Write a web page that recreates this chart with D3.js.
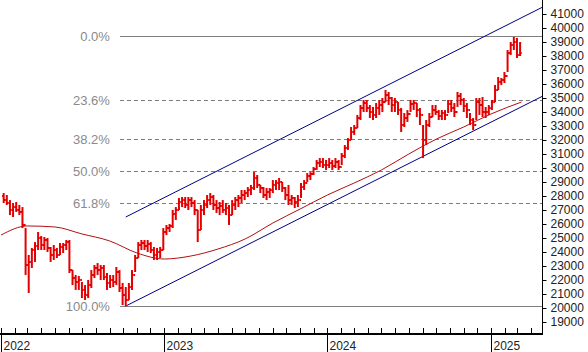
<!DOCTYPE html>
<html><head><meta charset="utf-8">
<script src="https://cdn.jsdelivr.net/npm/d3@7"></script>
<style>body{margin:0;background:#fff} svg{display:block;font-family:Arial,"Liberation Sans",sans-serif}</style>
</head><body><svg id="c" width="588" height="352"></svg>
<script>
// ---- data (weekly bars) ----
const firstWeek = "2022-01-07";
const firstOpen = 28000;
const high = [28210,28070,27710,27500,27570,27360,27210,25710,23790,24290,24710,25430,25140,25070,25000,24360,24500,24290,24640,24640,
24860,24860,22710,22360,22290,21860,21640,22000,22710,23070,23210,23070,23070,22500,22360,22360,22930,22710,21790,21500,
21790,22710,23790,24710,24860,24860,24860,24710,24360,24290,24360,25710,25930,26000,27000,27210,27860,27930,27930,27930,
27930,27710,27000,27360,27710,28070,28210,28070,27710,27570,27710,27500,27360,27710,27930,28070,28430,28430,28640,28790,
29710,29500,28790,28640,28570,28570,29140,29140,29290,29000,28640,28790,28070,27930,28070,28930,29140,29640,29710,30070,
30570,30710,30710,30570,30710,30570,30710,30570,31070,31640,32140,32930,33070,33790,34500,34860,34860,34500,34360,34640,
34860,35000,35570,35430,35070,35000,34710,34290,33930,34140,34860,34860,34640,34290,33070,33430,33930,34500,34500,34140,
34140,34140,34860,34860,34640,35430,35360,35000,34640,33930,33570,35000,35000,35070,34360,34500,34860,35930,36500,36430,
36860,38430,39000,39360,39290,39000];
const low = [27500,27360,26640,26500,26860,26640,25710,22360,21070,22860,23290,24140,24140,24140,24000,23290,23430,23570,23790,23930,
24140,22500,21640,21290,21290,20710,20570,20710,21430,22140,22360,22000,22000,21290,21430,21500,21640,21140,20210,20140,
20570,21290,22570,23570,24140,24140,24000,23930,23430,23430,23570,24140,25210,25430,25710,26290,27000,27210,27140,27000,
27210,26640,24710,25570,26640,27140,27360,27000,26790,26640,26790,26640,25930,26640,27000,27210,27500,27710,27930,28070,
28430,28570,28210,27860,27710,27860,28210,28430,28430,28290,27710,27360,27360,27140,27210,27860,28430,29000,29140,29500,
29860,30070,30000,29860,30000,29860,30000,29860,30210,30710,31290,32000,32360,32860,33430,34000,34000,33570,33430,33570,
33790,34000,34710,34500,34000,34000,33790,32570,32930,33290,34000,34140,33640,33070,30710,31640,32930,33640,33790,33430,
33430,33430,33930,34000,33640,34360,34500,34000,33570,33070,32710,33430,33790,33640,33570,33790,34140,34710,35570,35930,
36070,36860,38070,38430,37860,38000];
const close = [27710,27500,27000,27210,27000,26860,25930,23070,23290,24140,24430,25000,24500,24860,24290,23790,24140,23790,24360,24500,
24710,22710,22140,21860,22000,21290,20930,21640,22360,22860,22710,22860,22210,21790,22000,21860,22570,21430,20930,20570,
21500,22360,23570,24500,24640,24430,24570,24140,23790,24000,24140,25430,25710,25860,26710,27000,27570,27710,27360,27710,
27500,27000,25570,27000,27360,27710,27930,27360,27140,27290,27000,27140,26640,27360,27710,27860,28070,28210,28430,28570,
29290,28790,28570,28070,28290,28430,28790,28930,29000,28570,28070,27710,27860,27570,27710,28640,28930,29430,29570,29930,
30360,30430,30210,30210,30360,30140,30430,30070,30860,31430,32000,32570,32860,33570,34290,34640,34290,34000,33790,34290,
34500,34710,35210,35000,34500,34710,34140,33070,33570,33860,34570,34640,34140,33790,32000,33070,33640,34140,34000,33710,
33930,33790,34570,34290,34000,35140,34860,34430,34140,33430,33070,34710,34500,34000,34000,34290,34710,35570,36140,36290,
36570,38210,38790,39000,38070,38210];
// moving average, read every two months
const maDates = ["2022-01-01","2022-03-01","2022-05-01","2022-07-01","2022-09-01","2022-11-01","2023-01-01","2023-03-01","2023-05-01","2023-07-01",
"2023-09-01","2023-11-01","2024-01-01","2024-03-01","2024-05-01","2024-07-01","2024-09-01","2024-11-01","2025-01-01","2025-03-10"];
const maValues = [25210,25860,25790,25290,24790,23930,23500,23710,24210,24930,26070,27070,28070,28930,29860,31000,32070,32930,33860,34710];
// channel
const channelDates = ["2022-10-07","2025-04-25"];
const channelLower = [20140, 35110];
const channelUpper = [26500, 41470];
// fibonacci retracement
const fibRatios = [0, 0.236, 0.382, 0.5, 0.618, 1];
const fibLabels = ["0.0%","23.6%","38.2%","50.0%","61.8%","100.0%"];
const fibHigh = 39430, fibLow = 20140;
const fibStart = "2022-09-24";
// axes
const yTicks = d3.range(19000, 41001, 1000);
const yearLabels = ["2022","2023","2024","2025"];
const axisStart = "2022-01-01", axisEnd = "2025-04-25";

// ---- drawing ----
const svg = d3.select("#c");
const P = d3.utcParse("%Y-%m-%d");
const x = d3.scaleUtc().domain([P(axisStart), P(axisEnd)]).range([1, 542]);
const y = d3.scaleLinear().domain([20000, 41000]).range([308, 14]);
const plotBottom = 334, plotRight = 542;

// fib lines
const fibG = svg.append("g");
fibRatios.forEach((r, i) => {
  const v = fibHigh - r * (fibHigh - fibLow);
  const yy = Math.round(y(v)) + 0.5;
  const solid = (r === 0 || r === 1);
  fibG.append("line").attr("x1", x(P(fibStart))).attr("x2", plotRight).attr("y1", yy).attr("y2", yy)
    .attr("stroke", solid ? "#808080" : "#7a7a7a").attr("stroke-width", 1)
    .attr("stroke-dasharray", solid ? null : "4,3");
  fibG.append("text").attr("x", x(P(fibStart)) - 10).attr("y", yy).attr("dy", "0.35em")
    .attr("text-anchor", "end").attr("fill", "#8a8a8a").attr("font-size", 13).text(fibLabels[i]);
});

// channel
[channelLower, channelUpper].forEach(vals => {
  svg.append("line").attr("x1", x(P(channelDates[0]))).attr("y1", y(vals[0]))
    .attr("x2", x(P(channelDates[1]))).attr("y2", y(vals[1]))
    .attr("stroke", "#000080").attr("stroke-width", 1);
});

// moving average
svg.append("path").datum(maDates.map((d, i) => [P(d), maValues[i]]))
  .attr("fill", "none").attr("stroke", "#b01010").attr("stroke-width", 1)
  .attr("d", d3.line().x(d => x(d[0])).y(d => y(d[1])).curve(d3.curveMonotoneX));

// bars
const t0 = P(firstWeek);
const bars = close.map((c, i) => ({
  date: d3.utcDay.offset(t0, 7 * i), hi: high[i], lo: low[i], cl: c, op: i === 0 ? firstOpen : close[i - 1]
}));
const bg = svg.append("g").attr("stroke", "#e20000").attr("stroke-width", 2);
bars.forEach(b => {
  const xx = x(b.date);
  bg.append("line").attr("x1", xx).attr("x2", xx).attr("y1", y(b.hi)).attr("y2", y(b.lo));
  bg.append("line").attr("x1", xx - 1.6).attr("x2", xx).attr("y1", y(b.op)).attr("y2", y(b.op));
  bg.append("line").attr("x1", xx).attr("x2", xx + 1.6).attr("y1", y(b.cl)).attr("y2", y(b.cl));
});

// right axis
const ra = svg.append("g").attr("transform", `translate(${plotRight + 0.5},0)`)
  .call(d3.axisRight(y).tickValues(yTicks).tickSize(4).tickPadding(4).tickFormat(d3.format("d")));
ra.select(".domain").remove();
ra.selectAll("text").attr("font-size", 12).attr("font-family", "Arial, 'Liberation Sans', sans-serif").attr("fill", "#222");
svg.append("line").attr("x1", plotRight + 0.5).attr("x2", plotRight + 0.5).attr("y1", 0).attr("y2", plotBottom + 1).attr("stroke", "#000");

// bottom axis
svg.append("line").attr("x1", 0).attr("x2", plotRight + 1).attr("y1", plotBottom).attr("y2", plotBottom)
  .attr("stroke", "#000").attr("stroke-width", 2);
const months = d3.utcMonth.range(P(axisStart), P(axisEnd));
svg.append("g").selectAll("line").data(months).join("line")
  .attr("x1", d => Math.round(x(d)) + 0.5).attr("x2", d => Math.round(x(d)) + 0.5)
  .attr("y1", plotBottom - 6).attr("y2", plotBottom).attr("stroke", "#000");
yearLabels.forEach(yl => {
  const xx = Math.round(x(P(yl + "-01-01"))) + 0.5;
  svg.append("line").attr("x1", xx).attr("x2", xx).attr("y1", plotBottom).attr("y2", 352).attr("stroke", "#000");
  svg.append("text").attr("x", xx + 2).attr("y", 350).attr("font-size", 12).attr("fill", "#222").text(yl);
});
</script></body></html>
